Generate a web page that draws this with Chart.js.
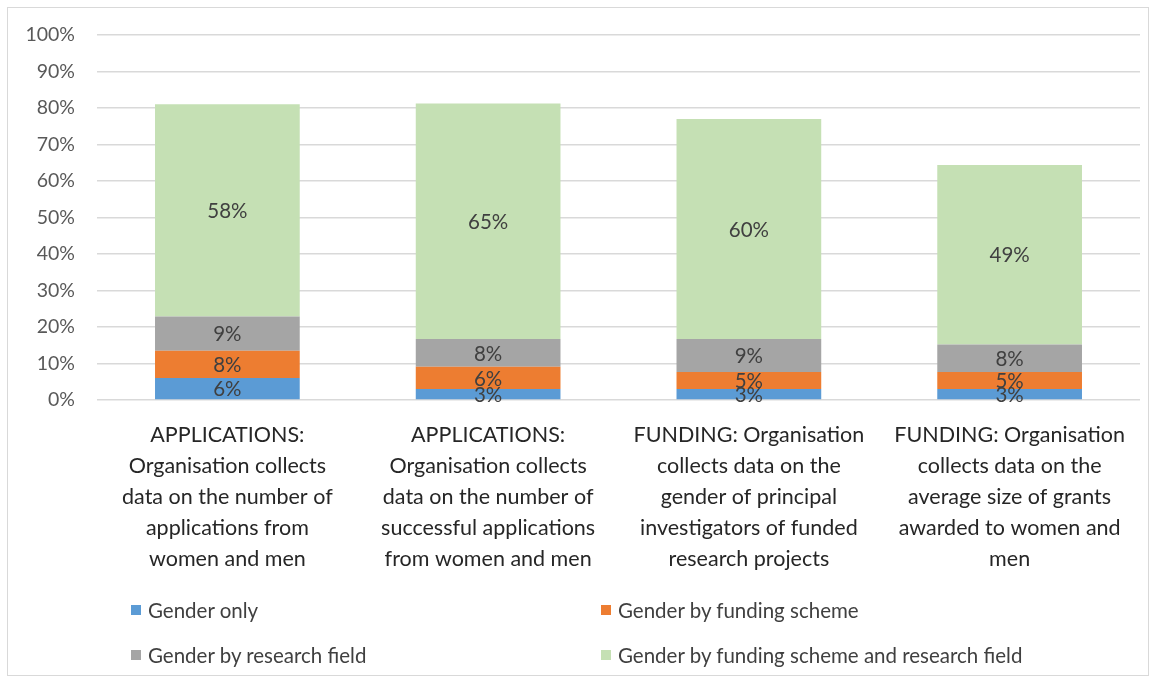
<!DOCTYPE html>
<html>
<head>
<meta charset="utf-8">
<script src="https://cdn.jsdelivr.net/npm/chart.js@4.4.0/dist/chart.umd.min.js"></script>
<style>
  html, body { margin: 0; padding: 0; background: #fff; }
  #wrap { position: relative; width: 1157px; height: 684px; overflow: hidden; }
  #frame { position: absolute; left: 7px; top: 7px; width: 1142px; height: 669px; border: 1px solid #d9d9d9; box-sizing: border-box; }
  #chartBox { position: absolute; left: 0; top: 0; width: 1157px; height: 590px; }
  #legend { position: absolute; left: 0; top: 0; width: 1157px; height: 684px; pointer-events: none;
    font-family: Lato, "Open Sans", sans-serif; font-size: 20.5px; color: #404040; }
  .lg { position: absolute; display: flex; align-items: center; white-space: nowrap; }
  .lg i { display: inline-block; width: 10px; height: 10px; margin-right: 7px; }
</style>
</head>
<body>
<div id="wrap">
  <div id="frame"></div>
  <div id="chartBox"><canvas id="chart"></canvas></div>
  <div id="legend"></div>
</div>
<script>
// categories (x axis, multi-line)
const categories = [
  ['APPLICATIONS:', 'Organisation collects', 'data on the number of', 'applications from', 'women and men'],
  ['APPLICATIONS:', 'Organisation collects', 'data on the number of', 'successful applications', 'from women and men'],
  ['FUNDING: Organisation', 'collects data on the', 'gender of principal', 'investigators of funded', 'research projects'],
  ['FUNDING: Organisation', 'collects data on the', 'average size of grants', 'awarded to women and', 'men']
];

// series values (%)
const genderOnly        = [6.0, 3.0, 3.0, 3.0];
const byFundingScheme   = [7.5, 6.1, 4.7, 4.7];
const byResearchField   = [9.4, 7.6, 9.0, 7.5];
const bySchemeAndField  = [58.1, 64.5, 60.3, 49.2];

const seriesNames = [
  'Gender only',
  'Gender by funding scheme',
  'Gender by research field',
  'Gender by funding scheme and research field'
];
const seriesColors = ['#5b9bd5', '#ed7d31', '#a5a5a5', '#c5e0b4'];

const yTicks = [0, 10, 20, 30, 40, 50, 60, 70, 80, 90, 100];

const FONT = 'Lato, "Open Sans", sans-serif';

// draws the rounded % value in the middle of each segment
const segmentLabels = {
  id: 'segmentLabels',
  afterDatasetsDraw(chart) {
    const ctx = chart.ctx;
    ctx.save();
    ctx.font = '20.5px ' + FONT;
    ctx.fillStyle = '#404040';
    ctx.textAlign = 'center';
    ctx.textBaseline = 'middle';
    chart.data.datasets.forEach((ds, i) => {
      chart.getDatasetMeta(i).data.forEach((bar, j) => {
        const p = bar.getProps(['x', 'y', 'base'], true);
        ctx.fillText(Math.round(ds.data[j]) + '%', p.x, (p.y + p.base) / 2 + 1);
      });
    });
    ctx.restore();
  }
};

const allSeries = [genderOnly, byFundingScheme, byResearchField, bySchemeAndField];

const chart = new Chart(document.getElementById('chart'), {
  type: 'bar',
  data: {
    labels: categories,
    datasets: allSeries.map((vals, i) => ({
      label: seriesNames[i],
      data: vals,
      backgroundColor: seriesColors[i],
      borderWidth: 0,
      barPercentage: 0.555,
      categoryPercentage: 1
    }))
  },
  options: {
    responsive: true,
    maintainAspectRatio: false,
    animation: false,
    layout: { padding: { top: 35, left: 0, right: 17, bottom: 0 } },
    plugins: {
      legend: { display: false },
      tooltip: { enabled: false }
    },
    scales: {
      x: {
        stacked: true,
        grid: { display: false, drawTicks: false },
        border: { display: false },
        ticks: {
          autoSkip: false,
          maxRotation: 0,
          padding: 20,
          color: '#262626',
          font: { family: FONT, size: 21.5, lineHeight: 31 / 21.5 }
        },
        afterFit(scale) { scale.height = 190; }
      },
      y: {
        stacked: true,
        min: 0,
        max: 100,
        afterBuildTicks(scale) { scale.ticks = yTicks.map(v => ({ value: v })); },
        grid: { color: '#d9d9d9', lineWidth: 1.5, drawTicks: false },
        border: { display: false },
        ticks: {
          padding: 22,
          color: '#595959',
          font: { family: FONT, size: 19.5 },
          callback: v => v + '%'
        },
        afterFit(scale) { scale.width = 97; }
      }
    }
  },
  plugins: [segmentLabels]
});

// legend, laid out as a 2 x 2 grid like the original
const legendPos = [
  { left: 131, top: 610 },
  { left: 601, top: 610 },
  { left: 131, top: 655 },
  { left: 601, top: 655 }
];
document.getElementById('legend').innerHTML = seriesNames.map((name, i) =>
  `<div class="lg" style="left:${legendPos[i].left}px;top:${legendPos[i].top - 13}px;height:26px">
     <i style="background:${seriesColors[i]}"></i><span>${name}</span>
   </div>`
).join('');
</script>
</body>
</html>
